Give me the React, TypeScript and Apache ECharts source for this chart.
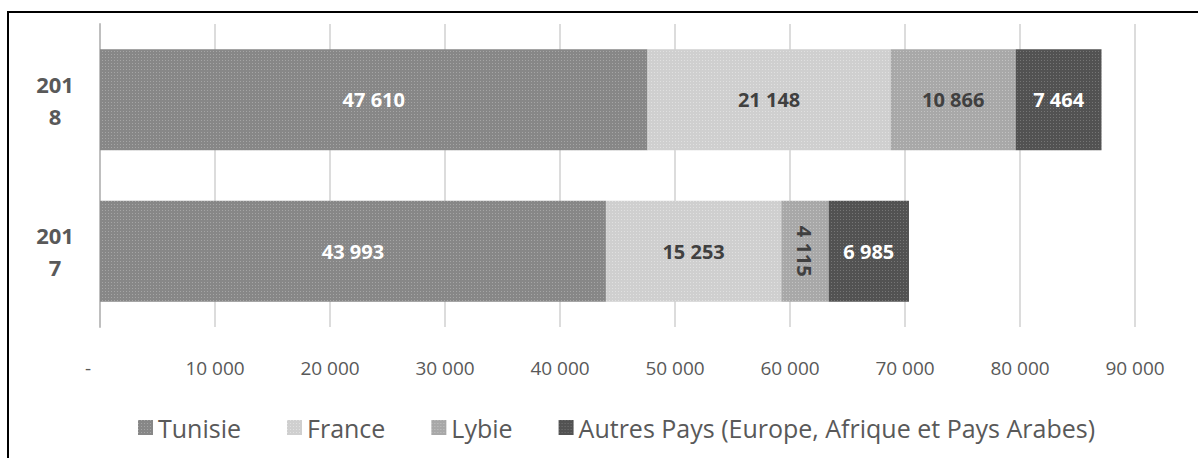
import React, { useEffect, useRef } from "react";
import * as echarts from "echarts";

const years = ["2017", "2018"];
const tunisie = [43993, 47610];
const france = [15253, 21148];
const lybie = [4115, 10866];
const autres = [6985, 7464];
const seriesNames = ["Tunisie", "France", "Lybie", "Autres Pays (Europe, Afrique et Pays Arabes)"];

const fmt = (v: number) => {
  if (v === 0) return "-";
  return String(v).replace(/\B(?=(\d{3})+(?!\d))/g, " ");
};

export default function App() {
  const ref = useRef<HTMLDivElement>(null);
  useEffect(() => {
    document.body.style.margin = "0";
    const chart = echarts.init(ref.current!, null, { renderer: "svg" });
    const font = "'Open Sans', 'Noto Sans', sans-serif";
    const mk = (name: string, data: number[], color: string, dot: string, labelColor: string, rotateSmall = false) => ({
      name,
      type: "bar",
      stack: "total",
      barWidth: 101,
      data: data.map((v) => ({
        value: v,
        label: rotateSmall && v < 5000 ? { rotate: -90 } : {},
      })),
      itemStyle: {
        color,
        decal: { symbol: "rect", symbolSize: 1, dashArrayX: [1, 2], dashArrayY: [1, 2], color: dot },
      },
      label: {
        show: true,
        position: "inside",
        color: labelColor,
        fontWeight: "bold",
        fontSize: 20,
        fontFamily: font,
        formatter: (p: any) => fmt(p.value),
      },
    });
    chart.setOption({
      animation: false,
      grid: { left: 100, right: 63, top: 24, bottom: 131, containLabel: false },
      xAxis: {
        type: "value",
        min: 0,
        max: 90000,
        interval: 10000,
        axisLine: { show: false },
        axisTick: { show: false },
        splitLine: { show: true, lineStyle: { color: "#dcdcdc", width: 2 } },
        axisLabel: {
          color: "#595959",
          fontSize: 19,
          fontFamily: font,
          margin: 31,
          formatter: (v: number) => (v === 0 ? "{d|-}" : fmt(v)),
          rich: { d: { padding: [0, 24, 0, 0], fontSize: 19, color: "#595959", fontFamily: font } },
        },
      },
      yAxis: {
        type: "category",
        data: years,
        axisLine: { show: true, lineStyle: { color: "#bfbfbf", width: 2 } },
        axisTick: { show: false },
        axisLabel: {
          color: "#595959",
          fontSize: 22,
          fontWeight: "bold",
          fontFamily: font,
          align: "center",
          margin: 45,
          lineHeight: 32,
          formatter: (v: string) => v.slice(0, 3) + "\n" + v.slice(3),
        },
      },
      legend: {
        bottom: 13,
        left: 133,
        itemWidth: 15,
        itemHeight: 15,
        itemGap: 46,
        icon: "rect",
        textStyle: { color: "#595959", fontSize: 25, fontFamily: font },
        data: seriesNames,
      },
      graphic: [
        { type: "line", shape: { x1: 8, y1: 11, x2: 8, y2: 458 }, style: { stroke: "#000", lineWidth: 2 } },
        { type: "line", shape: { x1: 7, y1: 12, x2: 1198, y2: 12 }, style: { stroke: "#000", lineWidth: 2 } },
      ],
      series: [
        mk(seriesNames[0], tunisie, "#878787", "rgba(255,255,255,0.25)", "#ffffff"),
        mk(seriesNames[1], france, "#cfcfcf", "rgba(255,255,255,0.35)", "#404040"),
        mk(seriesNames[2], lybie, "#a8a8a8", "rgba(255,255,255,0.3)", "#404040", true),
        mk(seriesNames[3], autres, "#525252", "rgba(255,255,255,0.2)", "#ffffff"),
      ],
    });
    return () => chart.dispose();
  }, []);
  return <div ref={ref} style={{ width: 1198, height: 458 }} />;
}
